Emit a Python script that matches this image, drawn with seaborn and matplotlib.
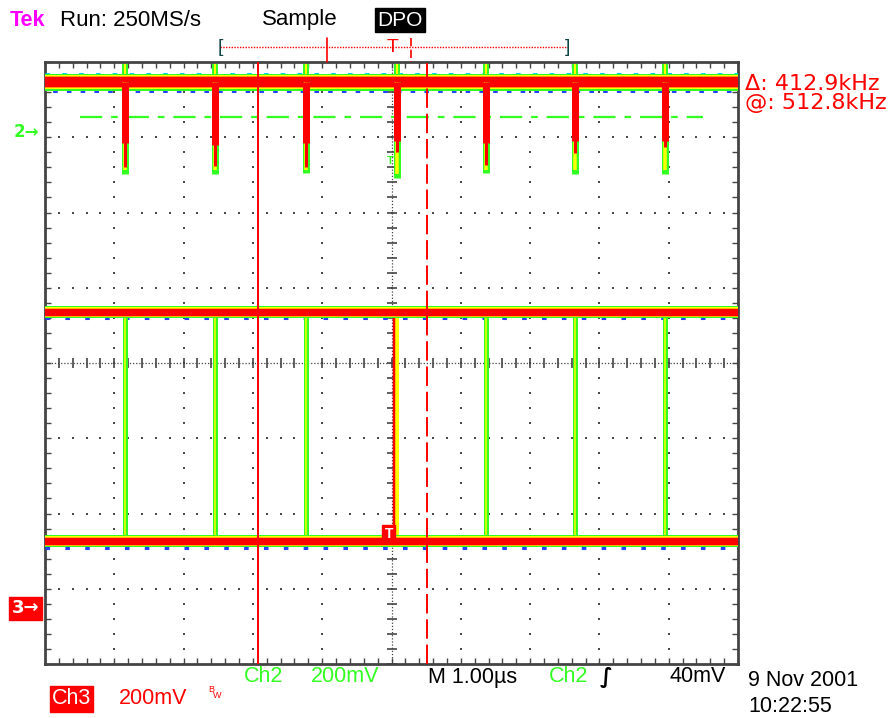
"""
Tek scope capture: Ch2 glitch trace over Ch3 square wave (DPO persistence)
"""

import numpy as np
import pandas as pd
import matplotlib
matplotlib.use("Agg")
import matplotlib.pyplot as plt
import seaborn as sns

# ── Readings, in screen divisions (x: 0..10 at 1 µs/div, y: -4..4) ───────────
edge_div = [1.15, 2.45, 3.77, 5.08, 6.36, 7.65, 8.95]
ch2_level = 3.73
ch2_core_tip = [2.93, 2.90, 2.92, 2.95, 2.92, 2.95, 2.95]
ch2_red_tip = [2.61, 2.62, 2.60, 2.81, 2.63, 2.79, 2.87]
ch2_green_tip = [2.51, 2.51, 2.52, 2.46, 2.52, 2.51, 2.51]
ch3_high = 0.68
ch3_low = -2.37
trig_edge = 3                      # index of the edge the scope triggered on
ch2_trig_level = 3.27
ch2_ground = 3.07
ch3_ground = -3.26
cursor_a = 3.07
cursor_b = 5.51
t_start, t_end = 0, 10

header = ["Run: 250MS/s", "Sample", "DPO"]
readout = ["\u0394: 412.9kHz", "@: 512.8kHz"]
footer = ["Ch2", "200mV", "M 1.00\u00b5s", "Ch2", "40mV"]
stamp = ["9 Nov 2001", "10:22:55"]

RED, GREEN, YELLOW, ORANGE = "#ff0000", "#33ff22", "#ffff00", "#ff9900"
W, H = 888, 718
PT = 0.72  # points per pixel at dpi 100

sns.set_theme(style="white")
plt.rcParams["font.family"] = ["Liberation Sans", "DejaVu Sans"]


def fx(x):
    return x / W


def fy(y):
    return 1 - y / H


fig = plt.figure(figsize=(W / 100, H / 100), dpi=100, facecolor="white")
ax = fig.add_axes([fx(45), fy(664), 693 / W, 602 / H])
ax.set_xlim(t_start, t_end)
ax.set_ylim(-4, 4)
ax.set_facecolor("white")

# ── Graticule ────────────────────────────────────────────────────────────────
fine_x = np.arange(0, 10.001, 0.2)
fine_y = np.arange(-4, 4.001, 0.2)
for k in range(1, 10):
    if k == 5:
        continue
    ax.plot(np.full_like(fine_y, k), fine_y, ls="none", marker="s", ms=1.8,
            mew=0, color="#4a4a4a", zorder=1)
for j in range(-3, 4):
    if j == 0:
        continue
    ax.plot(fine_x, np.full_like(fine_x, j), ls="none", marker="s", ms=1.8,
            mew=0, color="#4a4a4a", zorder=1)
# centre crosshair
ax.axvline(5, ls=(0, (1, 1.5)), lw=0.9, color="#444444", zorder=1)
ax.axhline(0, ls=(0, (1, 1.5)), lw=0.9, color="#444444", zorder=1)
ax.plot(np.full_like(fine_y, 5), fine_y, ls="none", marker="_", ms=7, mew=1.2,
        color="#444444", zorder=1)
ax.plot(fine_x, np.zeros_like(fine_x), ls="none", marker="|", ms=7, mew=1.2,
        color="#444444", zorder=1)
# border ticks
ax.set_xticks(fine_x)
ax.set_yticks(fine_y)
ax.tick_params(which="major", direction="in", length=4, width=1, color="#444444",
               top=True, right=True, bottom=True, left=True,
               labelbottom=False, labelleft=False)
for sp in ax.spines.values():
    sp.set_color("#444444")
    sp.set_linewidth(2)

# ── Cursors ──────────────────────────────────────────────────────────────────
ax.axvline(cursor_a, color=RED, lw=1.4, zorder=6)
ax.axvline(cursor_b, color=RED, lw=1.4, dashes=(10, 3), zorder=6)

# ── Ch2 trace: high band with short negative glitches ───────────────────────
span = pd.DataFrame({"t": [t_start, t_end]})
for color, px in [(GREEN, 17), (YELLOW, 14), (ORANGE, 12), (RED, 10)]:
    sns.lineplot(x=span.t, y=[ch2_level] * 2, color=color, lw=px * PT,
                 ax=ax, zorder=4)
ax.plot(span.t, [ch2_level + 0.115] * 2, ls=(0, (1.5, 4)), lw=2.2, color="#00ccee", zorder=3)
ax.plot(span.t, [ch2_level - 0.12] * 2, ls=(2, (1.5, 3)), lw=2.2, color="#2244ff", zorder=3)

ax.vlines(edge_div, ch2_level, 3.98, color=GREEN, lw=6 * PT, zorder=3)
ax.vlines(edge_div, ch2_level, 3.98, color=YELLOW, lw=2 * PT, zorder=3)
ax.vlines(edge_div, ch2_green_tip, ch2_level, color=GREEN, lw=7 * PT, zorder=4)
ax.vlines(edge_div, np.array(ch2_green_tip) + 0.05, ch2_level, color=YELLOW,
          lw=3.5 * PT, zorder=4)
ax.vlines(edge_div, ch2_red_tip, ch2_level, color=RED, lw=3 * PT, zorder=5)
ax.vlines(edge_div, ch2_core_tip, ch2_level, color=RED, lw=7 * PT, zorder=5)

# trigger level
ax.hlines(ch2_trig_level, 0.5, 9.5, color=GREEN, lw=1.6,
          linestyles=[(0, (10, 4, 3, 4))], zorder=2)

# ── Ch3 trace: square wave, both levels persisted across the record ─────────
for lvl in [ch3_high, ch3_low]:
    for color, px in [(GREEN, 12), (YELLOW, 10), (ORANGE, 8.5), (RED, 7)]:
        sns.lineplot(x=span.t, y=[lvl] * 2, color=color, lw=px * PT, ax=ax, zorder=4)
    ax.plot(span.t, [lvl - 0.085] * 2, ls=(0, (1.5, 5)), lw=2.2, color="#2244ff", zorder=3)

plain = [e for i, e in enumerate(edge_div) if i != trig_edge]
ax.vlines(plain, ch3_low, ch3_high, color=GREEN, lw=5 * PT, zorder=3)
ax.vlines(plain, ch3_low, ch3_high, color=YELLOW, lw=1.5 * PT, zorder=3)
ax.vlines(edge_div[trig_edge], ch3_low, ch3_high, color=YELLOW, lw=4 * PT, zorder=3)
ax.vlines(edge_div[trig_edge] - 0.04, ch3_low, ch3_high, color=RED, lw=2.5 * PT, zorder=3)
ax.text(edge_div[trig_edge] - 0.12, ch3_low + 0.1, "T", color="white", fontsize=10,
        fontweight="bold", ha="center", va="center", zorder=7,
        bbox=dict(boxstyle="square,pad=0.15", fc=RED, ec=RED))
ax.text(edge_div[trig_edge] - 0.1, 2.68, "T", color=GREEN, fontsize=8,
        fontweight="bold", ha="center", va="center", zorder=7)

# ── Ground markers (left of screen) ─────────────────────────────────────────
ax.text(-0.08, ch2_ground, "2\u2192", color=GREEN, fontsize=12, fontweight="bold",
        ha="right", va="center", clip_on=False, family="DejaVu Sans")
ax.text(-0.08, ch3_ground, "3\u2192", color="white", fontsize=13, fontweight="bold",
        ha="right", va="center", clip_on=False, family="DejaVu Sans",
        bbox=dict(boxstyle="square,pad=0.15", fc=RED, ec=RED))

# ── Header and record bar ───────────────────────────────────────────────────
fig.text(fx(10), fy(20), "Tek", color="#ff00ff", fontsize=15.5, va="center", fontweight="bold")
fig.text(fx(60), fy(20), header[0], color="black", fontsize=16, va="center")
fig.text(fx(262), fy(20), header[1], color="black", fontsize=16, va="center")
fig.text(fx(377), fy(20), header[2], color="white", fontsize=15, va="center",
         bbox=dict(boxstyle="square,pad=0.12", fc="black", ec="black"))

bar_y = fy(47)
fig.add_artist(plt.Line2D([fx(220), fx(568)], [bar_y, bar_y], color=RED, lw=1,
                          ls=(0, (1, 1))))
fig.text(fx(220), bar_y, "[", color="#114444", fontsize=14, ha="center", va="center")
fig.text(fx(568), bar_y, "]", color="#114444", fontsize=14, ha="center", va="center")
fig.add_artist(plt.Line2D([fx(327), fx(327)], [fy(38), fy(62)], color=RED, lw=1.2))
fig.add_artist(plt.Line2D([fx(411), fx(411)], [fy(38), fy(62)], color=RED, lw=1.2,
                          dashes=(5, 2)))
fig.text(fx(393), fy(47), "T", color=RED, fontsize=14, ha="center", va="center")

# ── Cursor readout ──────────────────────────────────────────────────────────
fig.text(fx(745), fy(84), readout[0], color=RED, fontsize=16, va="center",
         family=["DejaVu Sans"])
fig.text(fx(745), fy(103), readout[1], color=RED, fontsize=16, va="center",
         family=["DejaVu Sans"])

# ── Footer ──────────────────────────────────────────────────────────────────
fy_row = fy(677)
fig.text(fx(244), fy_row, footer[0], color=GREEN, fontsize=15.5, va="center")
fig.text(fx(311), fy_row, footer[1], color=GREEN, fontsize=15.5, va="center")
fig.text(fx(428), fy_row, footer[2], color="black", fontsize=15.5, va="center")
fig.text(fx(549), fy_row, footer[3], color=GREEN, fontsize=15.5, va="center")
fig.text(fx(600), fy_row, "\u222b", color="black", fontsize=15, va="center",
         fontweight="bold", family=["DejaVu Sans"])
fig.text(fx(670), fy_row, footer[4], color="black", fontsize=15.5, va="center")
fig.text(fx(748), fy(681), stamp[0], color="black", fontsize=15.5, va="center")
fig.text(fx(748), fy(706), stamp[1], color="black", fontsize=15.5, va="center")

fig.text(fx(52), fy(699), "Ch3", color="white", fontsize=15.5, va="center",
         bbox=dict(boxstyle="square,pad=0.1", fc=RED, ec=RED))
fig.text(fx(119), fy(699), "200mV", color=RED, fontsize=15.5, va="center")
fig.text(fx(208), fy(690), "B", color=RED, fontsize=6.5, va="center")
fig.text(fx(213), fy(695), "W", color=RED, fontsize=6.5, va="center")

fig.savefig("out.png", dpi=100, facecolor="white")
